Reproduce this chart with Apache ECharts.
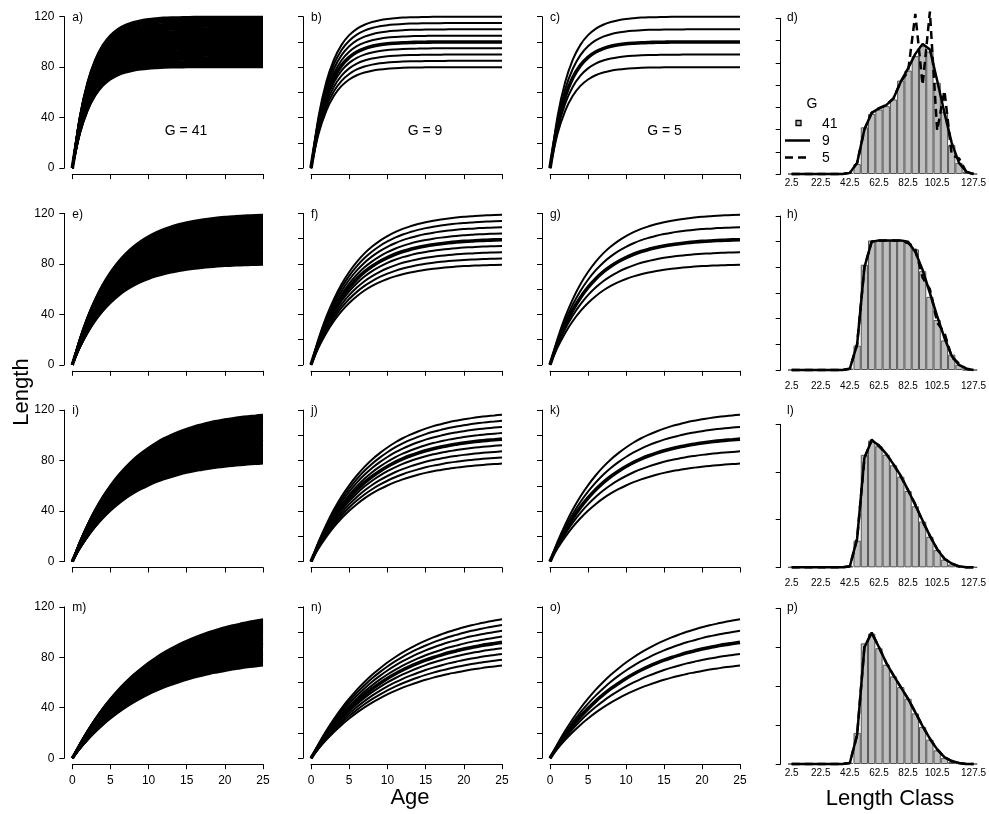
<!DOCTYPE html>
<html><head><meta charset="utf-8">
<script src="https://cdn.jsdelivr.net/npm/echarts/dist/echarts.min.js"></script>
<style>html,body{margin:0;padding:0;background:#fff}#c{width:989px;height:814px}</style>
</head><body><div id="c"></div>
<script>
// ---------- data ----------
const ages = [0,1,2,3,4,5,6,7,8,9,10,11,12,13,14,15,16,17,18,19,20,21,22,23,24,25];
// mean growth curve (Linf = 100, thick line) in each row
const meanRow1 = [0,34.3,56.8,71.6,81.4,87.8,92.0,94.7,96.5,97.7,98.5,99.0,99.4,99.6,99.7,99.8,99.9,99.9,100,100,100,100,100,100,100,100];
const meanRow2 = [0,17.3,31.6,43.4,53.2,61.3,68.0,73.6,78.1,81.9,85.0,87.6,89.8,91.5,93.0,94.2,95.2,96.0,96.7,97.3,97.8,98.1,98.5,98.7,99.0,99.1];
const meanRow3 = [0,13.1,24.4,34.3,42.9,50.3,56.8,62.5,67.4,71.6,75.3,78.6,81.4,83.8,85.9,87.8,89.4,90.7,92.0,93.0,93.9,94.7,95.4,96.0,96.5,97.0];
const meanRow4 = [0,9.5,18.1,25.9,33.0,39.3,45.1,50.3,55.1,59.3,63.2,66.7,69.9,72.7,75.3,77.7,79.8,81.7,83.5,85.0,86.5,87.8,88.9,90.0,90.9,91.8];
// asymptotic lengths of the growth groups (G = 41, 9, 5)
const linfG41 = [80,81,82,83,84,85,86,87,88,89,90,91,92,93,94,95,96,97,98,99,100,101,102,103,104,105,106,107,108,109,110,111,112,113,114,115,116,117,118,119,120];
const linfG9 = [80,85,90,95,100,105,110,115,120];
const linfG5 = [80,90,100,110,120];
const ageTicks = [0,5,10,15,20,25];

const lengthClasses = ['2.5','7.5','12.5','17.5','22.5','27.5','32.5','37.5','42.5','47.5','52.5','57.5','62.5','67.5','72.5','77.5','82.5','87.5','92.5','97.5','102.5','107.5','112.5','117.5','122.5','127.5'];
const lengthTickLabels = ['2.5','22.5','42.5','62.5','82.5','102.5','127.5'];

const histG41Row1 = [0,0,0,0,0,0,0,0,0.001,0.009,0.042,0.054,0.058,0.061,0.067,0.084,0.093,0.106,0.115,0.110,0.082,0.056,0.026,0.010,0.002,0];
const lineG9Row1  = [0,0,0,0,0,0,0,0,0.001,0.010,0.040,0.055,0.059,0.062,0.068,0.083,0.095,0.108,0.117,0.112,0.084,0.055,0.028,0.010,0.002,0];
const lineG5Row1  = [0,0,0,0,0,0,0,0,0.001,0.010,0.040,0.055,0.059,0.062,0.068,0.083,0.092,0.144,0.080,0.146,0.039,0.075,0.017,0.014,0.002,0];

const histG41Row2 = [0,0,0,0,0,0,0,0,0.001,0.019,0.082,0.101,0.101,0.101,0.101,0.101,0.099,0.094,0.077,0.057,0.039,0.023,0.012,0.004,0,0];
const lineG9Row2  = [0,0,0,0,0,0,0,0,0.001,0.020,0.080,0.100,0.101,0.101,0.101,0.101,0.100,0.092,0.078,0.060,0.042,0.025,0.011,0.004,0.001,0];
const lineG5Row2  = [0,0,0,0,0,0,0,0,0.001,0.020,0.080,0.100,0.101,0.101,0.101,0.101,0.099,0.094,0.072,0.063,0.037,0.029,0.010,0.005,0.001,0];

const histG41Row3 = [0,0,0,0,0,0,0,0,0.001,0.028,0.118,0.133,0.127,0.118,0.107,0.095,0.080,0.064,0.048,0.032,0.018,0.008,0.003,0.001,0,0];
const lineG9Row3  = [0,0,0,0,0,0,0,0,0.001,0.030,0.115,0.133,0.128,0.119,0.108,0.096,0.081,0.065,0.049,0.033,0.019,0.009,0.004,0.001,0,0];
const lineG5Row3  = [0,0,0,0,0,0,0,0,0.001,0.030,0.114,0.134,0.127,0.119,0.108,0.095,0.081,0.066,0.048,0.033,0.019,0.009,0.004,0.001,0,0];

const histG41Row4 = [0,0,0,0,0,0,0,0,0.001,0.032,0.124,0.134,0.119,0.102,0.090,0.079,0.067,0.052,0.038,0.025,0.014,0.006,0.002,0.001,0,0];
const lineG9Row4  = [0,0,0,0,0,0,0,0,0.001,0.030,0.120,0.135,0.120,0.104,0.091,0.079,0.067,0.053,0.039,0.026,0.015,0.007,0.003,0.001,0,0];
const lineG5Row4  = [0,0,0,0,0,0,0,0,0.001,0.030,0.120,0.135,0.120,0.104,0.091,0.079,0.067,0.053,0.039,0.026,0.015,0.007,0.003,0.001,0,0];

const panelLetters = ['a','b','c','d','e','f','g','h','i','j','k','l','m','n','o','p'];
const groupLabels = ['G = 41','G = 9','G = 5'];

// ---------- layout ----------
const F = '"Liberation Sans", Arial, sans-serif';
const meanRows = [meanRow1, meanRow2, meanRow3, meanRow4];
const hists = [[histG41Row1,lineG9Row1,lineG5Row1],[histG41Row2,lineG9Row2,lineG5Row2],[histG41Row3,lineG9Row3,lineG5Row3],[histG41Row4,lineG9Row4,lineG5Row4]];
const rowTop = [16.7, 213.4, 410.1, 606.8], rowH = 151.4;
const colX = [72.3, 311, 550], colW = [190.7, 191, 190];
const histTop = [18.3, 216, 424.3, 608.3], histBase = [174, 370, 567.3, 764];
const histMax = [0.14, 0.12, 0.15, 0.16], histStep = [0.02, 0.02, 0.05, 0.04];
const histLabelMargin = [4, 11, 11, 4];
const HX = 788, HW = 192.4;

const grid = [], xAxis = [], yAxis = [], series = [], graphic = [];
const axisCommon = {
  axisLine: {show: true, onZero: false, lineStyle: {color: '#000', width: 1}},
  axisTick: {show: true, length: 5, lineStyle: {color: '#000', width: 1}},
  splitLine: {show: false}
};
let gi = 0;
for (let r = 0; r < 4; r++) {
  for (let c = 0; c < 3; c++) {
    grid.push({left: colX[c], top: rowTop[r], width: colW[c], height: rowH});
    xAxis.push(Object.assign({}, axisCommon, {
      gridIndex: gi, type: 'value', min: 0, max: 25, interval: 5, offset: 6,
      axisLabel: {show: r === 3, color: '#000', fontSize: 12, fontFamily: F, margin: 10}
    }));
    yAxis.push(Object.assign({}, axisCommon, {
      gridIndex: gi, type: 'value', min: 0, max: 120, interval: c === 0 ? 40 : 20, offset: 8,
      axisLabel: {show: c === 0, color: '#000', fontSize: 12, fontFamily: F, margin: 10}
    }));
    const levels = [linfG41, linfG9, linfG5][c];
    const ordered = levels.filter(v => v !== 100).concat([100]);
    ordered.forEach(L => {
      series.push({
        type: 'line', xAxisIndex: gi, yAxisIndex: gi, symbol: 'none', smooth: 0.3, clip: false,
        silent: true,
        lineStyle: {color: '#000', width: L === 100 ? 3.6 : 2},
        data: ages.map((a, i) => [a, meanRows[r][i] * L / 100])
      });
    });
    graphic.push({type: 'text', x: colX[c], y: rowTop[r] + 1, style: {text: panelLetters[r * 4 + c] + ')', font: '12px ' + F, fill: '#000', textAlign: 'left', textVerticalAlign: 'middle'}});
    if (r === 0) {
      graphic.push({type: 'text', x: [186, 425, 664.5][c], y: 131, style: {text: groupLabels[c], font: '14px ' + F, fill: '#000', textAlign: 'center', textVerticalAlign: 'middle'}});
    }
    gi++;
  }
  // histogram panel
  grid.push({left: HX, top: histTop[r], width: HW, height: histBase[r] - histTop[r]});
  xAxis.push({
    gridIndex: gi, type: 'category', data: lengthClasses, boundaryGap: true,
    axisLine: {show: false}, axisTick: {show: false}, splitLine: {show: false},
    axisLabel: {interval: (i, v) => lengthTickLabels.includes(v), color: '#000', fontSize: 10, fontFamily: F, margin: histLabelMargin[r]}
  });
  yAxis.push(Object.assign({}, axisCommon, {
    gridIndex: gi, type: 'value', min: 0, max: histMax[r], interval: histStep[r], offset: 7.3,
    axisLabel: {show: false}
  }));
  const [h41, h9, h5] = hists[r];
  series.push({type: 'bar', name: '41', xAxisIndex: gi, yAxisIndex: gi, barCategoryGap: '0%', silent: true,
    itemStyle: {color: '#bebebe', borderColor: '#555', borderWidth: 1}, data: h41});
  series.push({type: 'line', name: '9', xAxisIndex: gi, yAxisIndex: gi, symbol: 'none', clip: false, silent: true,
    lineStyle: {color: '#000', width: 2.5}, data: h9});
  series.push({type: 'line', name: '5', xAxisIndex: gi, yAxisIndex: gi, symbol: 'none', clip: false, silent: true,
    lineStyle: {color: '#000', width: 2.5, type: [8, 5]}, data: h5});
  graphic.push({type: 'text', x: 787, y: rowTop[r] + 1, style: {text: panelLetters[r * 4 + 3] + ')', font: '12px ' + F, fill: '#000', textAlign: 'left', textVerticalAlign: 'middle'}});
  gi++;
}

// legend of panel d
graphic.push({type: 'text', x: 812, y: 104, style: {text: 'G', font: '14px ' + F, fill: '#000', textAlign: 'center', textVerticalAlign: 'middle'}});
graphic.push({type: 'rect', shape: {x: 796, y: 120.5, width: 5, height: 5}, style: {fill: '#bebebe', stroke: '#000', lineWidth: 1.3}});
graphic.push({type: 'text', x: 822, y: 124, style: {text: '41', font: '14px ' + F, fill: '#000', textAlign: 'left', textVerticalAlign: 'middle'}});
graphic.push({type: 'line', shape: {x1: 785, y1: 140.5, x2: 810, y2: 140.5}, style: {stroke: '#000', lineWidth: 2.5}});
graphic.push({type: 'text', x: 822, y: 141, style: {text: '9', font: '14px ' + F, fill: '#000', textAlign: 'left', textVerticalAlign: 'middle'}});
graphic.push({type: 'line', shape: {x1: 785, y1: 157.5, x2: 810, y2: 157.5}, style: {stroke: '#000', lineWidth: 2.5, lineDash: [8, 5]}});
graphic.push({type: 'text', x: 822, y: 158, style: {text: '5', font: '14px ' + F, fill: '#000', textAlign: 'left', textVerticalAlign: 'middle'}});

// axis titles
graphic.push({type: 'text', x: 410, y: 798, style: {text: 'Age', font: '22px ' + F, fill: '#000', textAlign: 'center', textVerticalAlign: 'middle'}});
graphic.push({type: 'text', x: 890, y: 799, style: {text: 'Length Class', font: '22px ' + F, fill: '#000', textAlign: 'center', textVerticalAlign: 'middle'}});
graphic.push({type: 'text', x: 22, y: 392, rotation: Math.PI / 2, style: {text: 'Length', font: '22px ' + F, fill: '#000', textAlign: 'center', textVerticalAlign: 'middle'}});

const chart = echarts.init(document.getElementById('c'), null, {renderer: 'canvas'});
chart.setOption({animation: false, backgroundColor: '#fff', grid, xAxis, yAxis, series, graphic});
</script></body></html>
